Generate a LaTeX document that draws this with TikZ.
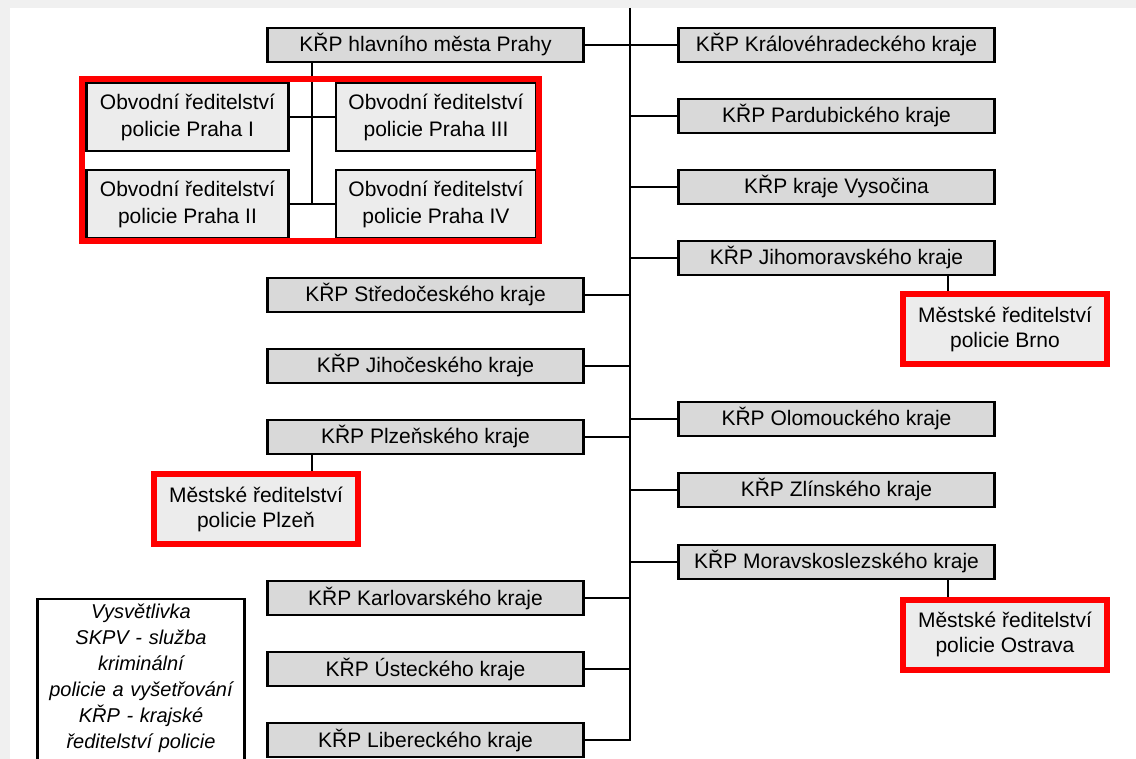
\documentclass[tikz,border=0pt]{standalone}
\usepackage{fontspec}
\setmainfont{Liberation Sans}
\tikzset{
  krp/.style={draw, line width=1.4pt, fill=gray!30, minimum width=158pt,
    minimum height=17pt, inner sep=0pt, font=\fontsize{10.5}{13}\selectfont},
  obvod/.style={draw, line width=1.4pt, fill=gray!15, minimum height=34pt,
    inner sep=0pt, align=center, font=\fontsize{10.5}{13.5}\selectfont},
  mesto/.style={draw=red, line width=3pt, fill=gray!15, minimum width=102pt,
    minimum height=35pt, inner sep=0pt, align=center,
    font=\fontsize{10.5}{12.5}\selectfont},
  link/.style={line width=1.3pt},
}
\begin{document}
\begin{tikzpicture}[x=0.5pt, y=-0.5pt]
        \useasboundingbox (0,0) rectangle (1136,759);
        \fill[gray!12] (0,0) rectangle (1136,759);
        \fill[white] (10,8) rectangle (1136,759);

        % Spine
        \coordinate (trunk-top) at (630,8);
        \coordinate (trunk-bot) at (630,741);
        \coordinate (west-link) at (312,0);
        \coordinate (east-link) at (948,0);
        \draw[link] (trunk-top) -- (trunk-bot);

        % Prague
        \node[krp] (praha) at (425.5,45) {KŘP hlavního města Prahy};
        \node[obvod, minimum width=101pt] (obv-1) at (187.5,117) {Obvodní ředitelství\\policie Praha I};
        \node[obvod, minimum width=100pt] (obv-3) at (436,117) {Obvodní ředitelství\\policie Praha III};
        \node[obvod, minimum width=101pt] (obv-2) at (187.5,204) {Obvodní ředitelství\\policie Praha II};
        \node[obvod, minimum width=100pt] (obv-4) at (436,204) {Obvodní ředitelství\\policie Praha IV};
        \draw[link] (praha.south -| west-link) -- (obv-2.east -| west-link);
        \draw[link] (obv-1.east) -- (obv-3.west);
        \draw[link] (obv-2.east) -- (obv-4.west);
        \draw[red, line width=3pt] (82,79) rectangle (538.5,241);

        % Regions west of the spine
        \foreach \n/\y/\txt in {stred/295/Středočeského, jihoc/366/Jihočeského,
            plzen/437/Plzeňského, karl/598/Karlovarského, ust/669/Ústeckého,
            liber/740/Libereckého} {
          \node[krp] (krp-\n) at (425.5,\y) {KŘP \txt\ kraje};
          \draw[link] (krp-\n.east) -- (krp-\n.east -| trunk-top);
        }

        % Regions east of the spine
        \foreach \n/\y/\txt in {kralov/45/Královéhradeckého kraje, pardub/116/Pardubického kraje,
            vysoc/187/kraje Vysočina, jihom/258/Jihomoravského kraje,
            olom/419/Olomouckého kraje, zlin/490/Zlínského kraje,
            morav/562/Moravskoslezského kraje} {
          \node[krp] (krp-\n) at (836.5,\y) {KŘP \txt};
          \draw[link] (krp-\n.west) -- (krp-\n.west -| trunk-top);
        }
        \draw[link] (praha.east) -- (krp-kralov.west);

        % City directorates
        \node[mesto] (mr-plzen) at (256,509) {Městské ředitelství\\policie Plzeň};
        \node[mesto] (mr-brno) at (1005,329) {Městské ředitelství\\policie Brno};
        \node[mesto] (mr-ostrava) at (1005,634.5) {Městské ředitelství\\policie Ostrava};
        \draw[link] (krp-plzen.south -| west-link) -- (mr-plzen.north -| west-link);
        \draw[link] (krp-jihom.south -| east-link) -- (mr-brno.north -| east-link);
        \draw[link] (krp-morav.south -| east-link) -- (mr-ostrava.north -| east-link);

        % Legend
        \node[anchor=north, text width=100pt, inner xsep=1.5pt, inner ysep=2.5pt, align=center,
          font=\itshape\fontsize{10}{13}\selectfont] (legend) at (141,599)
          {Vysvětlivka\\SKPV - služba\\kriminální\\policie a vyšetřování\\KŘP - krajské\\ředitelství policie};
        \draw[line width=1.2pt] (legend.north west) rectangle ([yshift=-20pt]legend.south east);
      \end{tikzpicture}
\end{document}
